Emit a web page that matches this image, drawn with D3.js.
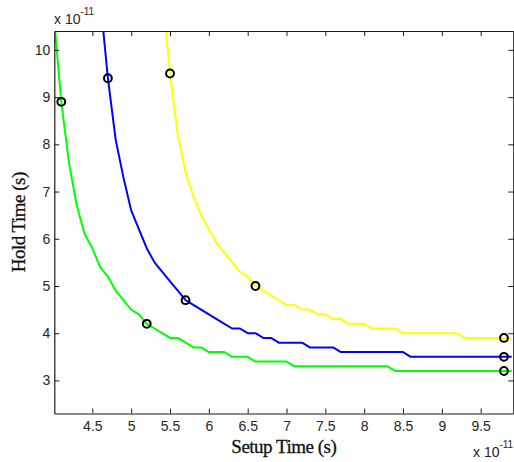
<!DOCTYPE html>
<html>
<head>
	<title>setup vs hold time</title>
	<script src="https://d3js.org/d3.v7.min.js"></script>
	<style type="text/css">
		body { margin: 0; background: #fff; }
		.tick text { font-family: 'Liberation Sans', Arial, sans-serif; font-size: 14px; fill: #262626; }
		.label { font-family: 'Liberation Serif', 'Times New Roman', serif; font-size: 19px; fill: #111; stroke: #111; stroke-width: 0.3px; letter-spacing: -0.5px; }
		.expo { font-family: 'Liberation Sans', Arial, sans-serif; fill: #262626; }
	</style>
</head>
<body>
	<svg id="chart" width="514" height="462"></svg>
	<script type="text/javascript">

		// setup time, units of 1e-11 s
		var setupTime = [4.0, 4.1, 4.2, 4.3, 4.4, 4.5, 4.6, 4.7, 4.8, 4.9,
			5.0, 5.1, 5.2, 5.3, 5.4, 5.5, 5.6, 5.7, 5.8, 5.9,
			6.0, 6.1, 6.2, 6.3, 6.4, 6.5, 6.6, 6.7, 6.8, 6.9,
			7.0, 7.1, 7.2, 7.3, 7.4, 7.5, 7.6, 7.7, 7.8, 7.9,
			8.0, 8.1, 8.2, 8.3, 8.4, 8.5, 8.6, 8.7, 8.8, 8.9,
			9.0, 9.1, 9.2, 9.3, 9.4, 9.5, 9.6, 9.7, 9.8, 9.9];

		// hold time per curve, units of 1e-11 s (null = off the chart)
		var holdGreen = [10.8, 8.9, 7.6, 6.7, 6.1, 5.8, 5.4, 5.2, 4.9, 4.7,
			4.5, 4.4, 4.2, 4.1, 4.0, 3.9, 3.9, 3.8, 3.7, 3.7,
			3.6, 3.6, 3.6, 3.5, 3.5, 3.5, 3.4, 3.4, 3.4, 3.4,
			3.4, 3.3, 3.3, 3.3, 3.3, 3.3, 3.3, 3.3, 3.3, 3.3,
			3.3, 3.3, 3.3, 3.3, 3.2, 3.2, 3.2, 3.2, 3.2, 3.2,
			3.2, 3.2, 3.2, 3.2, 3.2, 3.2, 3.2, 3.2, 3.2, 3.2];
		var holdBlue = [null, null, null, null, null, null, 11.1, 9.4, 8.1, 7.3,
			6.6, 6.2, 5.8, 5.5, 5.3, 5.1, 4.9, 4.7, 4.6, 4.5,
			4.4, 4.3, 4.2, 4.1, 4.1, 4.0, 4.0, 3.9, 3.9, 3.8,
			3.8, 3.8, 3.8, 3.7, 3.7, 3.7, 3.7, 3.6, 3.6, 3.6,
			3.6, 3.6, 3.6, 3.6, 3.6, 3.6, 3.5, 3.5, 3.5, 3.5,
			3.5, 3.5, 3.5, 3.5, 3.5, 3.5, 3.5, 3.5, 3.5, 3.5];
		var holdYellow = [null, null, null, null, null, null, null, null, null, null,
			null, null, null, null, 11.3, 9.5, 8.2, 7.4, 6.9, 6.5,
			6.2, 5.9, 5.7, 5.5, 5.3, 5.2, 5.0, 4.9, 4.8, 4.7,
			4.6, 4.6, 4.5, 4.5, 4.4, 4.4, 4.3, 4.3, 4.2, 4.2,
			4.2, 4.1, 4.1, 4.1, 4.1, 4.0, 4.0, 4.0, 4.0, 4.0,
			4.0, 4.0, 4.0, 3.9, 3.9, 3.9, 3.9, 3.9, 3.9, 3.9];

		// circled points
		var markGreen = [[4.1, 8.9], [5.2, 4.2], [9.8, 3.2]];
		var markBlue = [[4.7, 9.4], [5.7, 4.7], [9.8, 3.5]];
		var markYellow = [[5.5, 9.5], [6.6, 5.0], [9.8, 3.9]];

		var xTicks = [4.5, 5, 5.5, 6, 6.5, 7, 7.5, 8, 8.5, 9, 9.5];
		var yTicks = [3, 4, 5, 6, 7, 8, 9, 10];

		var series = [
			{ hold: holdGreen, marks: markGreen, color: '#00ff00' },
			{ hold: holdBlue, marks: markBlue, color: '#0000ff' },
			{ hold: holdYellow, marks: markYellow, color: '#ffff00' }
		];

		var plotLeft = 54.3, plotRight = 513.3, plotTop = 31, plotBottom = 413.5;

		var xScale = d3.scaleLinear().domain([4.01, 9.92]).range([plotLeft, plotRight]);
		var yScale = d3.scaleLinear().domain([2.3, 10.4]).range([plotBottom, plotTop]);

		var svg = d3.select('#chart');

		svg.append('defs').append('clipPath')
			.attr('id', 'plot-clip')
			.append('rect')
			.attr('x', plotLeft)
			.attr('y', plotTop)
			.attr('width', plotRight - plotLeft)
			.attr('height', plotBottom - plotTop);

		var line = d3.line()
			.defined(d => d[1] != null)
			.x(d => xScale(d[0]))
			.y(d => yScale(d[1]));

		var plot = svg.append('g').attr('clip-path', 'url(#plot-clip)');

		plot.selectAll('path.curve')
			.data(series)
			.enter().append('path')
			.attr('class', 'curve')
			.attr('fill', 'none')
			.attr('stroke', d => d.color)
			.attr('stroke-width', 2)
			.attr('stroke-linejoin', 'round')
			.attr('d', d => line(setupTime.map((x, i) => [x, d.hold[i]])));

		// black circles on top of the curves
		series.forEach(s => {
			svg.append('g').selectAll('circle')
				.data(s.marks)
				.enter().append('circle')
				.attr('cx', d => xScale(d[0]))
				.attr('cy', d => yScale(d[1]))
				.attr('r', 3.9)
				.attr('fill', 'none')
				.attr('stroke', '#000')
				.attr('stroke-width', 2);
		});

		// axes, MATLAB style: ticks pointing inward, box on all sides
		var styleAxis = g => g.selectAll('path, line').attr('stroke', '#1a1a1a');

		svg.append('g')
			.attr('transform', 'translate(0,' + plotBottom + ')')
			.call(d3.axisBottom(xScale).tickValues(xTicks).tickSizeInner(-5).tickSizeOuter(0).tickPadding(8).tickFormat(d3.format('')))
			.call(styleAxis);

		svg.append('g')
			.attr('transform', 'translate(0,' + plotTop + ')')
			.call(d3.axisTop(xScale).tickValues(xTicks).tickSizeInner(-5).tickSizeOuter(0).tickFormat(''))
			.call(styleAxis);

		svg.append('g')
			.attr('transform', 'translate(' + plotLeft + ',0)')
			.call(d3.axisLeft(yScale).tickValues(yTicks).tickSizeInner(-5).tickSizeOuter(0).tickPadding(4))
			.call(styleAxis);

		svg.append('g')
			.attr('transform', 'translate(' + plotRight + ',0)')
			.call(d3.axisRight(yScale).tickValues(yTicks).tickSizeInner(-5).tickSizeOuter(0).tickFormat(''))
			.call(styleAxis);

		svg.selectAll('.domain').attr('stroke-width', 1.2);

		// axis titles
		svg.append('text')
			.attr('class', 'label')
			.attr('x', (plotLeft + plotRight) / 2)
			.attr('y', 453)
			.attr('text-anchor', 'middle')
			.text('Setup Time (s)');

		svg.append('text')
			.attr('class', 'label')
			.attr('transform', 'translate(25,' + (plotTop + plotBottom) / 2 + ') rotate(-90)')
			.attr('text-anchor', 'middle')
			.text('Hold Time (s)');

		// exponent notes
		function expo(x, y) {
			var t = svg.append('text').attr('class', 'expo').attr('x', x).attr('y', y);
			t.append('tspan').attr('font-size', 14).text('x 10');
			t.append('tspan').attr('font-size', 10).attr('dy', -9).text('-11');
		}
		expo(54, 24);
		expo(473, 457);

	</script>
</body>
</html>
